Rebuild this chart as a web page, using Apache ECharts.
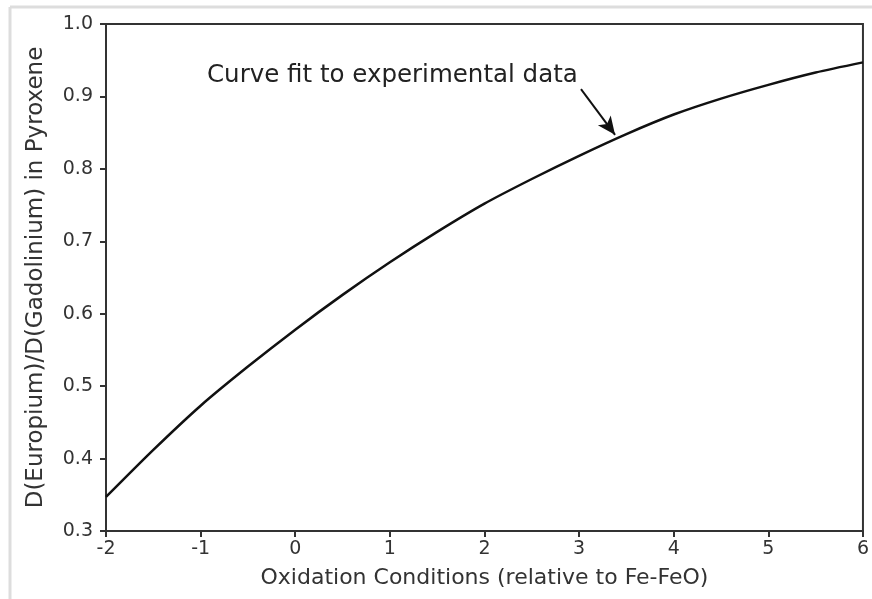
<!DOCTYPE html>
<html>
<head>
<meta charset="utf-8">
<script src="https://cdn.jsdelivr.net/npm/echarts@6/dist/echarts.min.js"></script>
<style>
  html, body { margin: 0; padding: 0; background: #fff; }
  #chart { width: 872px; height: 599px; }
</style>
</head>
<body>
<div id="chart"></div>
<script>
// oxidation conditions (relative to Fe-FeO) and fitted D(Eu)/D(Gd)
const oxidation = [-2, -1.5, -1, -0.5, 0, 0.5, 1, 1.5, 2, 2.5, 3, 3.5, 4, 4.5, 5, 5.5, 6];
const ratio = [0.347, 0.412, 0.473, 0.527, 0.578, 0.626, 0.671, 0.713, 0.752, 0.786, 0.818, 0.848, 0.875, 0.897, 0.916, 0.933, 0.947];
const noteText = "Curve fit to experimental data";
const arrowFrom = [3.02, 0.910];
const arrowTo = [3.38, 0.847];

const FONT = "DejaVu Sans";
const ink = "#333";

const chart = echarts.init(document.getElementById("chart"));
chart.setOption({
  animation: false,
  textStyle: { fontFamily: FONT },
  grid: { left: 106, right: 6, top: 24, bottom: 68, show: true, borderColor: ink, borderWidth: 2 },
  xAxis: {
    type: "value",
    min: -2, max: 6, interval: 1,
    name: "Oxidation Conditions (relative to Fe-FeO)",
    nameLocation: "middle",
    nameGap: 36,
    nameTextStyle: { fontFamily: FONT, fontSize: 22, color: ink },
    axisLine: { onZero: false, lineStyle: { color: ink, width: 2 } },
    axisTick: { length: 6, lineStyle: { color: ink, width: 2 } },
    axisLabel: { fontFamily: FONT, fontSize: 19, color: ink, margin: 9 },
    splitLine: { show: false },
  },
  yAxis: {
    type: "value",
    min: 0.3, max: 1.0, interval: 0.1,
    name: "D(Europium)/D(Gadolinium) in Pyroxene",
    nameLocation: "middle",
    nameGap: 58,
    nameTextStyle: { fontFamily: FONT, fontSize: 23, color: ink },
    axisLine: { onZero: false, lineStyle: { color: ink, width: 2 } },
    axisTick: { length: 6, lineStyle: { color: ink, width: 2 } },
    axisLabel: { fontFamily: FONT, fontSize: 19, color: ink, margin: 13, formatter: (v) => v.toFixed(1) },
    splitLine: { show: false },
  },
  graphic: [
    { type: "line", shape: { x1: 10, y1: 7, x2: 872, y2: 7 }, style: { stroke: "#ddd", lineWidth: 3 } },
    { type: "line", shape: { x1: 10, y1: 7, x2: 10, y2: 599 }, style: { stroke: "#ddd", lineWidth: 3 } },
    {
      type: "text", left: 207, top: 63,
      style: { text: noteText, fontFamily: FONT, fontSize: 24.5, fill: "#222" },
    },
  ],
  series: [
    {
      type: "line",
      data: oxidation.map((x, i) => [x, ratio[i]]),
      smooth: 0.25,
      showSymbol: false,
      lineStyle: { color: "#111", width: 2.5 },
      markLine: {
        silent: true,
        symbol: ["none", "arrow"],
        symbolSize: [12, 18],
        label: { show: false },
        lineStyle: { color: "#111", width: 2, type: "solid" },
        data: [[{ coord: arrowFrom }, { coord: arrowTo }]],
      },
    },
  ],
});
</script>
</body>
</html>
